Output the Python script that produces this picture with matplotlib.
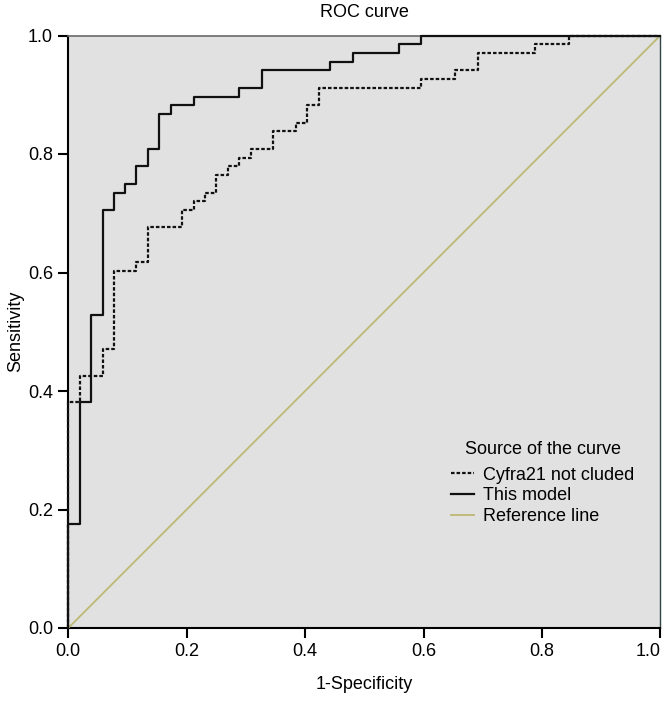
import matplotlib
matplotlib.use("Agg")
import matplotlib.pyplot as plt

plt.rcParams['font.family'] = ['Liberation Sans', 'DejaVu Sans']

# ROC step corners (1-Specificity, Sensitivity)
model_fpr = [0.0, 0.0, 0.019, 0.038, 0.058, 0.077, 0.096, 0.115, 0.135, 0.154, 0.173,
             0.212, 0.288, 0.327, 0.442, 0.481, 0.558, 0.596, 1.0]
model_tpr = [0.0, 0.176, 0.382, 0.529, 0.706, 0.735, 0.75, 0.779, 0.809, 0.868, 0.882,
             0.897, 0.912, 0.941, 0.956, 0.971, 0.985, 1.0, 1.0]

cyfra_fpr = [0.0, 0.0, 0.019, 0.058, 0.077, 0.115, 0.135, 0.192, 0.212, 0.231, 0.25,
             0.269, 0.288, 0.308, 0.346, 0.385, 0.404, 0.423, 0.596, 0.654, 0.692,
             0.788, 0.846, 1.0]
cyfra_tpr = [0.0, 0.382, 0.426, 0.471, 0.603, 0.618, 0.676, 0.706, 0.721, 0.735, 0.765,
             0.779, 0.794, 0.809, 0.838, 0.853, 0.882, 0.912, 0.926, 0.941, 0.971,
             0.985, 1.0, 1.0]

ref_x = [0.0, 1.0]
ref_y = [0.0, 1.0]

ticks = [0.0, 0.2, 0.4, 0.6, 0.8, 1.0]
tick_labels = ["0.0", "0.2", "0.4", "0.6", "0.8", "1.0"]
labels = ["Cyfra21 not cluded", "This model", "Reference line"]

fig = plt.figure(figsize=(6.66, 7.03), dpi=100)
ax = fig.add_axes([68.3 / 666, 1 - 628 / 703, 592 / 666, 592.5 / 703])
ax.set_facecolor('#E1E1E1')

ax.plot(cyfra_fpr, cyfra_tpr, drawstyle='steps-post', color='#111111', lw=1.6,
        linestyle=(0, (1.6, 0.9)), label=labels[0], zorder=3, clip_on=False)
ax.plot(model_fpr, model_tpr, drawstyle='steps-post', color='#111111', lw=1.6,
        label=labels[1], zorder=3, clip_on=False)
ax.plot(ref_x, ref_y, color='#BDB873', lw=1.3, label=labels[2], zorder=2.8)

ax.set_xlim(0, 1)
ax.set_ylim(0, 1)
ax.set_xticks(ticks)
ax.set_xticklabels(tick_labels)
ax.set_yticks(ticks)
ax.set_yticklabels(tick_labels)
ax.tick_params(direction='out', length=7, width=1.5, labelsize=13, pad=4, colors='black')
xt = ax.get_xticklabels()
xt[-1].set_horizontalalignment('right')

for s in ['left', 'bottom']:
    ax.spines[s].set_linewidth(1.5)
    ax.spines[s].set_color('black')
ax.spines['top'].set_linewidth(1.2)
ax.spines['top'].set_color('#6a6a6a')
ax.spines['right'].set_linewidth(1.0)
ax.spines['right'].set_color('#2f4444')

ax.set_xlabel("1-Specificity", fontsize=13, labelpad=11)
ax.set_ylabel("Sensitivity", fontsize=13, labelpad=3)
ax.set_title("ROC curve", fontsize=13, pad=13)

leg = ax.legend(title="Source of the curve", loc='upper left',
                bbox_to_anchor=(0.646, 0.315), frameon=False, fontsize=13,
                title_fontsize=13, handlelength=1.3, handletextpad=0.5,
                labelspacing=0.2, borderpad=0, borderaxespad=0)
leg._legend_box.sep = 6

fig.savefig("out.png", dpi=100)
